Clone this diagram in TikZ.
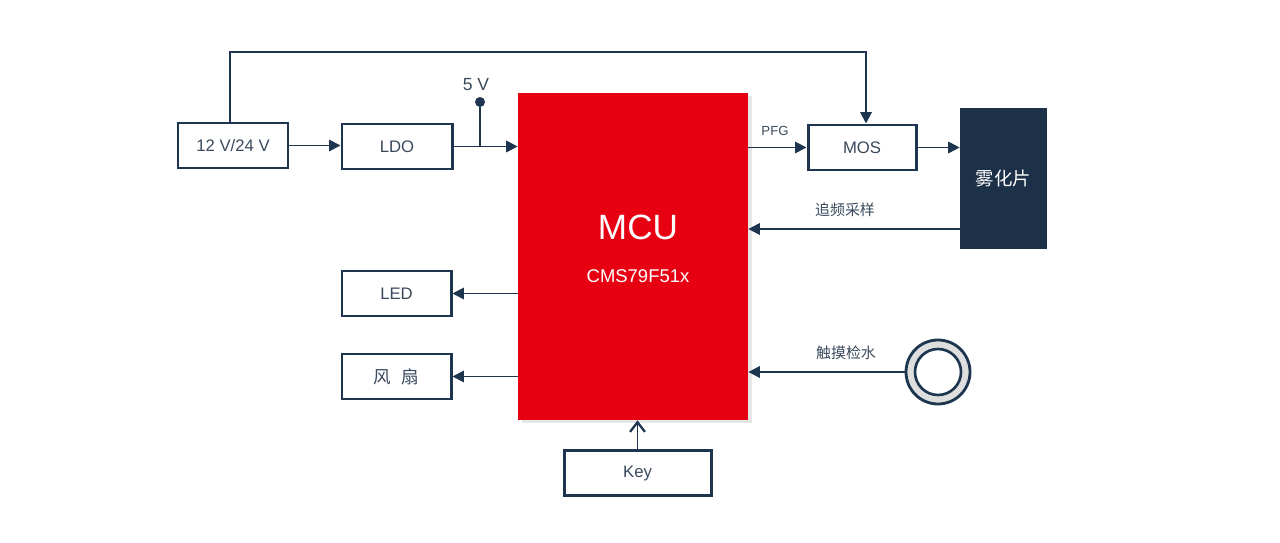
\documentclass[tikz,border=0pt]{standalone}
\usepackage{fontspec}
\setmainfont{Liberation Sans}
\newfontfamily\cjk{Noto Sans CJK SC}
\usetikzlibrary{arrows.meta,shadows}
\definecolor{navy}{HTML}{1E3550}
\definecolor{txt}{HTML}{3A4A5C}
\definecolor{mcured}{HTML}{E60012}
\definecolor{chip}{HTML}{1C3048}
\begin{document}
\begin{tikzpicture}[x=0.02cm,y=-0.02cm,
  blk/.style={draw=navy,line width=1.7pt,fill=white,minimum width=110*0.02cm,minimum height=45*0.02cm,inner sep=0pt,text=txt,font=\fontsize{9.5}{11}\selectfont},
  conn/.style={draw=navy,line width=1.1pt,-{Triangle[length=6.5pt,width=6.5pt]}},
  lbl/.style={text=txt,inner sep=0pt}]
\useasboundingbox (0,0) rectangle (1280,543);
% nodes
\node[blk] (src) at (233,145.5) {12 V/24 V};
\node[blk] (ldo) at (397,146.5) {LDO};
\node[fill=mcured,minimum width=230*0.02cm,minimum height=327*0.02cm,inner sep=0pt,
  drop shadow={shadow xshift=2pt,shadow yshift=-1.5pt,opacity=0.2}] (mcu) at (633,256.5) {};
\node[text=white,font=\fontsize{20}{24}\selectfont] (mcut) at (638,227) {MCU};
\node[text=white,font=\fontsize{10.5}{12}\selectfont] (mcus) at (638,276) {CMS79F51x};
\node[blk,minimum width=108*0.02cm] (mos) at (862,147.5) {MOS};
\node[fill=chip,minimum width=87*0.02cm,minimum height=141*0.02cm,inner sep=0pt,text=white,font=\cjk\fontsize{10.5}{12}\selectfont] (atom) at (1003.5,178.5) {雾化片};
\node[blk,minimum width=109*0.02cm] (led) at (396.5,293.5) {LED};
\node[blk,minimum width=109*0.02cm,font=\cjk\fontsize{10}{12}\selectfont] (fan) at (396.5,376.5) {风\hspace{0.6em}扇};
\node[blk,minimum width=147*0.02cm] (key) at (637.5,473) {Key};
% touch sensor
\node[circle,draw=navy,line width=1.6pt,fill=black!13,minimum size=64*0.02cm,inner sep=0pt] (touch) at (938,372) {};
\node[circle,draw=navy,line width=1.5pt,fill=white,minimum size=46*0.02cm,inner sep=0pt] (touchin) at (938,372) {};
% 5V tap
\coordinate (tap) at (480,146.5);
\node[circle,fill=navy,minimum size=10*0.02cm,inner sep=0pt] (dot) at (480,102) {};
\node[lbl,font=\fontsize{10}{12}\selectfont] (vlbl) at (476,85) {5 V};
% labels
\node[lbl,font=\fontsize{7.5}{9}\selectfont] (pfg) at (775,131) {PFG};
\node[lbl,font=\cjk\fontsize{8.5}{10}\selectfont] (trk) at (845,210) {追频采样};
\node[lbl,font=\cjk\fontsize{8.5}{10}\selectfont] (tch) at (846,353) {触摸检水};
% connectors
\draw[conn] (src) -- (src -| ldo.west);
\draw[conn] (ldo.east) -- (ldo.east -| mcu.west);
\draw[draw=navy,line width=1.1pt] (dot) -- (tap);
\draw[conn] (src.north -| 230,0) |- (866,52) -- (mos.north -| 866,0);
\draw[conn] (mcu.east |- mos) -- (mos.west);
\draw[conn] (mos) -- (mos -| atom.west);
\draw[conn] (atom.west |- 0,229) -- (mcu.east |- 0,229);
\draw[conn] (mcu.west |- led) -- (led.east);
\draw[conn] (mcu.west |- fan) -- (fan.east);
\draw[conn] (touch.west) -- (mcu.east |- touch);
\draw[draw=navy,line width=1.1pt,-{Straight Barb[length=5.5pt,width=8.5pt,line width=1.3pt]}] (key.north) -- (key.north |- mcu.south);
\end{tikzpicture}
\end{document}
